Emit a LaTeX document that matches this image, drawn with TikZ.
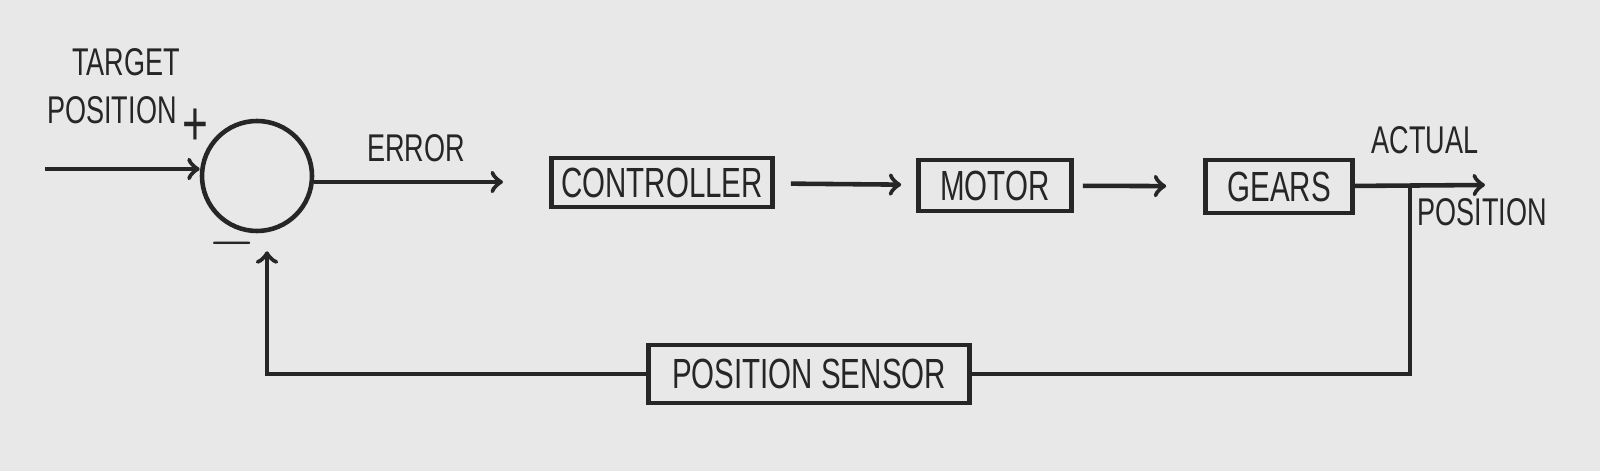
\documentclass[tikz,border=0pt]{standalone}
\usepackage{fontspec}
\setmainfont{Liberation Sans}[FakeStretch=0.7]
\begin{document}
\begin{tikzpicture}[
line width=1.3pt,
ink/.style={draw=black!85},
block/.style={ink,rectangle,inner sep=0pt,text=black!85,font=\fontsize{12}{13}\selectfont},
sumnode/.style={ink,circle,minimum size=1.1cm},
lbl/.style={text=black!85,font=\fontsize{11}{12}\selectfont,inner sep=0pt}
]

\fill [black!9] (0,0) rectangle (16,4.71);
\useasboundingbox (0,0) rectangle (16,4.71);

% blocks
\node [sumnode] (sum) at (2.57,2.95) {};
\node [block,minimum width=2.21cm,minimum height=0.49cm] (ctrl) at (6.62,2.885) {CONTROLLER};
\node [block,minimum width=1.53cm,minimum height=0.51cm] (motor) at (9.95,2.855) {MOTOR};
\node [block,minimum width=1.47cm,minimum height=0.53cm] (gears) at (12.79,2.845) {GEARS};
\node [block,minimum width=3.21cm,minimum height=0.58cm] (sensor) at (8.09,0.97) {POSITION SENSOR};

\coordinate (in) at (0.45,3.02);
\coordinate (errtip) at (5.03,2.89);
\coordinate (out) at (14.85,2.86);
\coordinate (br) at (14.1,2.86);

% forward path
\draw [ink,->] (in) -- (sum.west |- in);
\draw [ink,->] (sum.east |- errtip) -- (errtip);
\draw [ink,->,shorten <=0.16cm,shorten >=0.15cm] (ctrl) -- (motor);
\draw [ink,->,shorten <=0.09cm,shorten >=0.37cm] (motor) -- (gears);
\draw [ink,->] (gears) -- (out);

% feedback
\draw [ink] (br) |- (sensor.east);
\draw [ink,->,shorten >=0.18cm] (sensor.west) -| ([xshift=1mm]sum.south);

% labels
\node [lbl,align=left,anchor=west] (target) at (0.45,3.85) {\hspace{2.5mm}TARGET\\[0.6mm]POSITION};
\node [lbl] (plus) at (1.95,3.44) {\fontsize{18}{18}\selectfont +};
\node [lbl] (minus) at (2.32,2.28) {\fontsize{18}{18}\selectfont $-$};
\node [lbl] (err) at (4.16,3.23) {ERROR};
\node [lbl] (actual) at (14.25,3.31) {ACTUAL};
\node [lbl] (pos) at (14.82,2.59) {POSITION};
\end{tikzpicture}
\end{document}
